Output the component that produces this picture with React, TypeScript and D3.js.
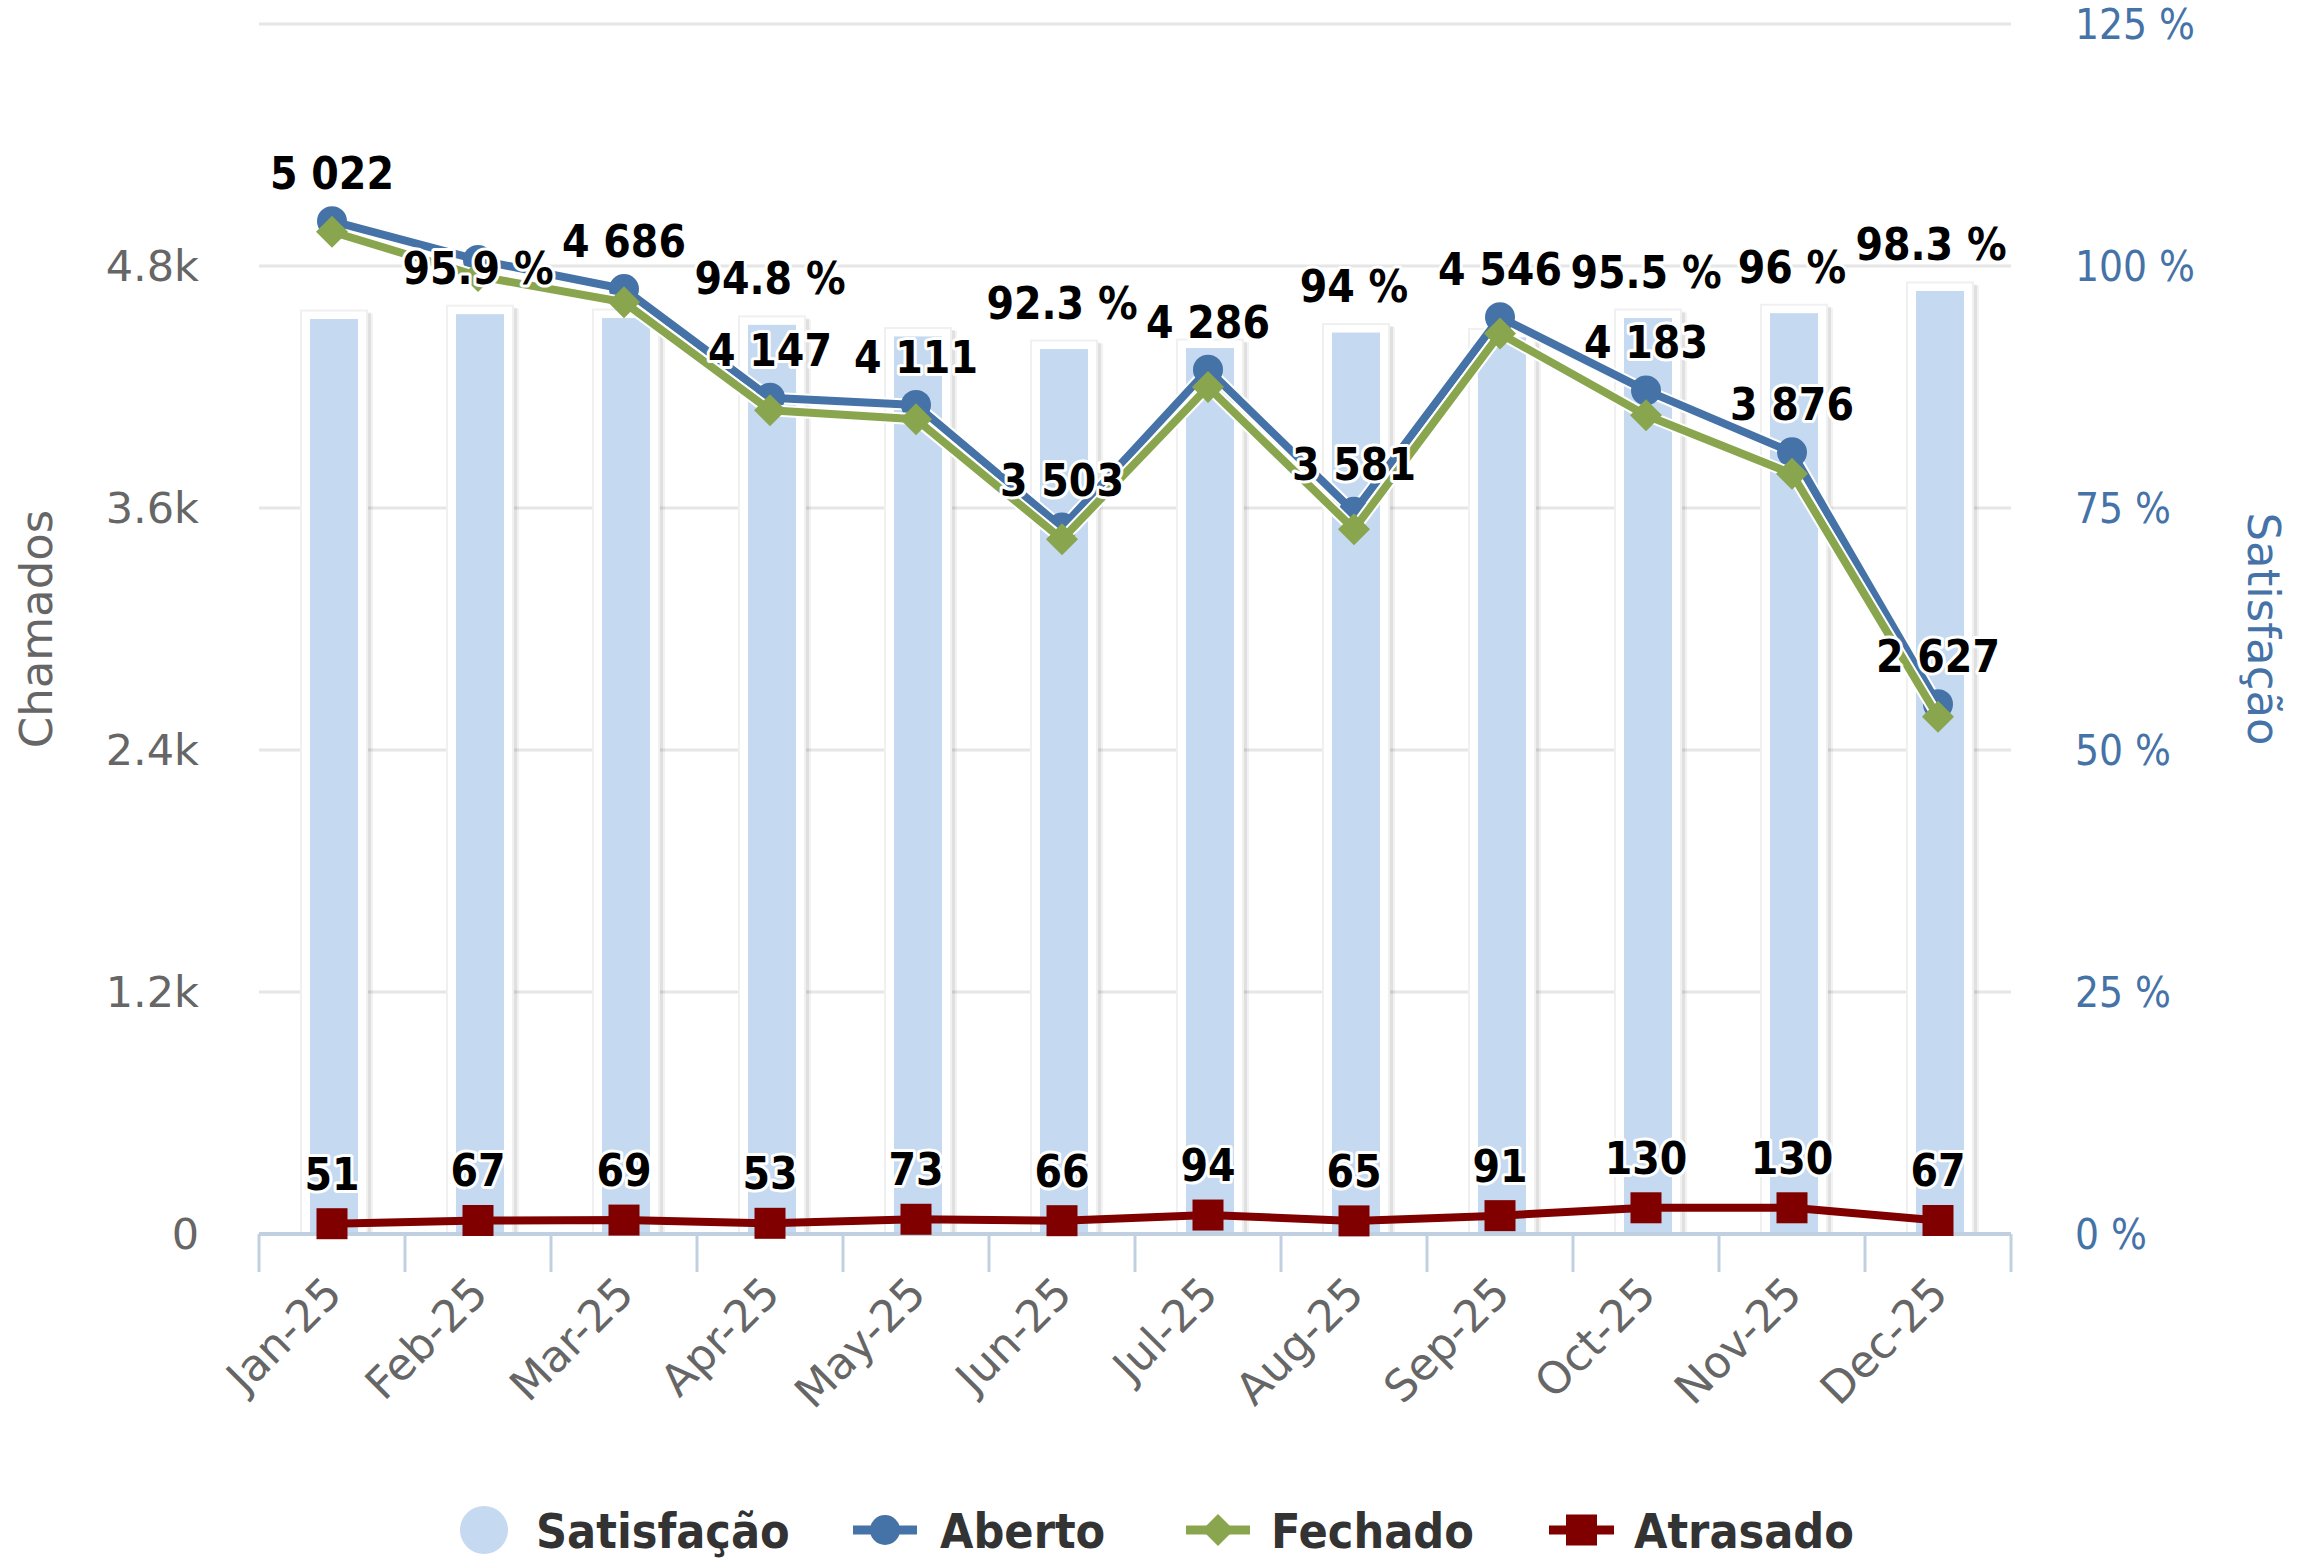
import React from "react";
import { scaleBand, scaleLinear, line, range } from "d3";

const months = ["Jan-25", "Feb-25", "Mar-25", "Apr-25", "May-25", "Jun-25", "Jul-25", "Aug-25", "Sep-25", "Oct-25", "Nov-25", "Dec-25"];
const satisfacao = [95.4, 95.9, 95.5, 94.8, 93.6, 92.3, 92.4, 94, 93.5, 95.5, 96, 98.3];
const aberto = [5022, 4830, 4686, 4147, 4111, 3503, 4286, 3581, 4546, 4183, 3876, 2627];
const fechado = [4970, 4750, 4620, 4085, 4040, 3445, 4200, 3495, 4465, 4060, 3770, 2565];
const atrasado = [51, 67, 69, 53, 73, 66, 94, 65, 91, 130, 130, 67];
const leftTicks = [0, 1200, 2400, 3600, 4800, 6000];
const rightTicks = [0, 25, 50, 75, 100, 125];

// labels hidden by overlap in the original
const hiddenSat = [0, 2, 4, 6, 8];
const hiddenAberto = [1];

const W = 2308;
const H = 1559;
const plot = { left: 259, right: 2011, top: 24, bottom: 1234 };

const BLUE = "#4572A7";
const GREEN = "#89A54E";
const RED = "#800000";
const BAR = "#C5D9F1";
const FONT = "'DejaVu Sans', sans-serif";
const COND = "'DejaVu Sans Condensed', 'DejaVu Sans', sans-serif";

function fmt(n: number) {
    return String(n).replace(/\B(?=(\d{3})+(?!\d))/g, " ");
}

function Label({ x, y, text }: { x: number; y: number; text: string }) {
    return (
        <text
            x={x}
            y={y}
            textAnchor="middle"
            fontFamily={COND}
            fontStretch="condensed"
            fontWeight="bold"
            fontSize={44}
            fill="#000"
            stroke="#fff"
            strokeWidth={6}
            strokeLinejoin="round"
            paintOrder="stroke"
        >
            {text}
        </text>
    );
}

export default function App() {
    const x = scaleBand().domain(months).range([plot.left, plot.right]).padding(0);
    const bw = x.bandwidth();
    const cx = (i: number) => (x(months[i]) as number) + bw / 2;
    const yL = scaleLinear().domain([0, 6000]).range([plot.bottom, plot.top]);
    const yR = scaleLinear().domain([0, 125]).range([plot.bottom, plot.top]);

    const mkLine = (vals: number[]) =>
        line<number>().x((_, i) => cx(i)).y(d => yL(d))(vals) as string;

    const diamond = (px: number, py: number, r: number) =>
        `M${px},${py - r}L${px + r},${py}L${px},${py + r}L${px - r},${py}Z`;

    return (
        <svg width={W} height={H} style={{ position: "absolute", left: 0, top: 0, background: "#fff" }}>
            {/* grid */}
            {leftTicks.map(t => (
                <line key={t} x1={plot.left} x2={plot.right} y1={yL(t)} y2={yL(t)} stroke="#e6e6e6" strokeWidth={3} />
            ))}

            {/* left axis labels */}
            {leftTicks.slice(0, -1).map(t => (
                <text key={t} x={199} y={yL(t) + 15} textAnchor="end" fontFamily={FONT} fontSize={43} fill="#666">
                    {t === 0 ? "0" : (t / 1000).toFixed(1) + "k"}
                </text>
            ))}
            <text transform={`translate(52,${(plot.top + plot.bottom) / 2}) rotate(-90)`} textAnchor="middle"
                fontFamily={FONT} fontSize={45} fill="#666">Chamados</text>

            {/* right axis labels */}
            {rightTicks.map(t => (
                <text key={t} x={2075} y={yR(t) + 15} fontFamily={COND} fontStretch="condensed" fontSize={42} fill={BLUE}>
                    {t + " %"}
                </text>
            ))}
            <text transform={`translate(2248,${(plot.top + plot.bottom) / 2}) rotate(90)`} textAnchor="middle"
                fontFamily={FONT} fontSize={45} fill={BLUE}>Satisfação</text>

            {/* columns */}
            {satisfacao.map((v, i) => {
                const c = cx(i);
                const top = yR(v);
                return (
                    <g key={i}>
                        <rect x={c - 29} y={top + 3} width={70} height={plot.bottom - top - 3} fill="#000" opacity={0.05} />
                        <rect x={c - 30} y={top + 2} width={69} height={plot.bottom - top - 2} fill="#000" opacity={0.07} />
                        <rect x={c - 31} y={top} width={66} height={plot.bottom - top} fill="#fff" stroke="#f0f0f0" strokeWidth={2} />
                        <rect x={c - 22} y={top + 8.5} width={48} height={plot.bottom - top - 8.5} fill={BAR} />
                    </g>
                );
            })}

            {/* x axis */}
            <line x1={plot.left} x2={plot.right} y1={plot.bottom} y2={plot.bottom} stroke="#C0D0E0" strokeWidth={4} />
            {range(months.length + 1).map(k => {
                const tx = plot.left + k * bw;
                return <line key={k} x1={tx} x2={tx} y1={plot.bottom} y2={plot.bottom + 38} stroke="#C0D0E0" strokeWidth={3} />;
            })}
            {months.map((m, i) => (
                <text key={m} transform={`translate(${cx(i) + 12},${plot.bottom + 62}) rotate(-45)`} textAnchor="end"
                    fontFamily={FONT} fontSize={44} fill="#666">{m}</text>
            ))}

            {/* lines */}
            <path d={mkLine(aberto)} fill="none" stroke="#fff" strokeWidth={12} strokeLinejoin="round" />
            <path d={mkLine(aberto)} fill="none" stroke={BLUE} strokeWidth={8} strokeLinejoin="round" />
            {aberto.map((v, i) => <circle key={i} cx={cx(i)} cy={yL(v)} r={15} fill={BLUE} />)}

            <path d={mkLine(fechado)} fill="none" stroke="#fff" strokeWidth={12} strokeLinejoin="round" />
            <path d={mkLine(fechado)} fill="none" stroke={GREEN} strokeWidth={8} strokeLinejoin="round" />
            {fechado.map((v, i) => <path key={i} d={diamond(cx(i), yL(v), 16)} fill={GREEN} />)}

            <path d={mkLine(atrasado)} fill="none" stroke={RED} strokeWidth={8} strokeLinejoin="round" />
            {atrasado.map((v, i) => <rect key={i} x={cx(i) - 15.5} y={yL(v) - 15.5} width={31} height={31} fill={RED} />)}

            {/* data labels */}
            {satisfacao.map((v, i) => hiddenSat.includes(i) ? null : (
                <Label key={"s" + i} x={Math.min(cx(i), plot.right - 80)} y={yR(v) - 22} text={fmt(v) + " %"} />
            ))}
            {aberto.map((v, i) => hiddenAberto.includes(i) ? null : (
                <Label key={"a" + i} x={cx(i)} y={yL(v) - 32} text={fmt(v)} />
            ))}
            {atrasado.map((v, i) => (
                <Label key={"r" + i} x={cx(i)} y={yL(v) - 34} text={fmt(v)} />
            ))}

            {/* legend */}
            <g fontFamily={COND} fontStretch="condensed" fontWeight="bold" fontSize={48} fill="#333">
                <circle cx={484} cy={1530} r={24} fill={BAR} />
                <text x={536} y={1548}>Satisfação</text>

                <line x1={853} x2={917} y1={1530} y2={1530} stroke={BLUE} strokeWidth={9} />
                <circle cx={885} cy={1530} r={15} fill={BLUE} />
                <text x={940} y={1548}>Aberto</text>

                <line x1={1186} x2={1250} y1={1530} y2={1530} stroke={GREEN} strokeWidth={9} />
                <path d={diamond(1218, 1530, 16)} fill={GREEN} />
                <text x={1271} y={1548}>Fechado</text>

                <line x1={1549} x2={1614} y1={1530} y2={1530} stroke={RED} strokeWidth={9} />
                <rect x={1566} y={1514.5} width={31} height={31} fill={RED} />
                <text x={1634} y={1548}>Atrasado</text>
            </g>
        </svg>
    );
}
